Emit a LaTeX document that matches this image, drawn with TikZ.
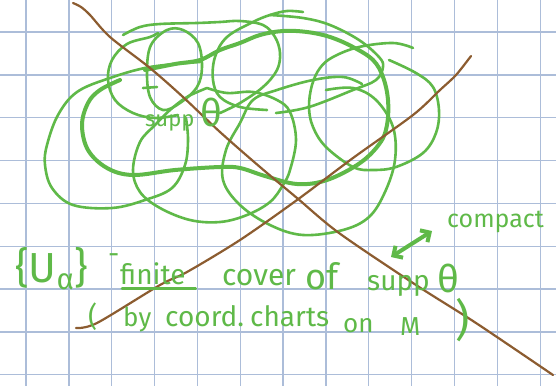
\documentclass[tikz,border=0pt]{standalone}
\usepackage{fontspec}
\setmainfont{Fira Sans}
\usetikzlibrary{arrows.meta}
\definecolor{gridc}{RGB}{172,189,217}
\definecolor{pen}{RGB}{95,185,72}
\definecolor{brownpen}{RGB}{140,92,48}
\tikzset{
  gridline/.style={draw=gridc, line width=1.3},
  stroke/.style={draw=pen, line width=2.6, line cap=round, line join=round},
  thick stroke/.style={draw=pen, line width=4, line cap=round, line join=round},
  brownline/.style={draw=brownpen, line width=2.2, line cap=round},
  hw/.style={text=pen, inner sep=0pt, anchor=base west},
}
\begin{document}
\begin{tikzpicture}[x=1pt,y=-1pt]
\useasboundingbox (0,0) rectangle (556,386);
\fill[white] (0,0) rectangle (556,386);
% grid
\foreach \i in {0,...,12} \draw[gridline] ({26+42.85*\i},0) -- ({26+42.85*\i},386);
\foreach \j in {0,...,8} \draw[gridline] (0,{32+42.85*\j}) -- (556,{32+42.85*\j});

% green loops
% outer left loop
\draw[stroke] plot[smooth, tension=0.6] coordinates {(200,62) (150,67) (110,78) (77,92) (58,115) (47,145) (45,165) (52,188) (73,205) (112,208) (145,200) (172,188) (185,165) (188,140) (186,118)};
% thick big loop
\draw[thick stroke] plot[smooth, tension=0.6] coordinates {(145,70) (175,64) (200,60) (220,50) (240,43) (260,35) (283,31) (307,32) (330,37) (353,47) (373,60) (383,77) (388,100) (387,125) (380,143) (360,163) (327,180) (297,184) (265,176) (240,168) (220,167) (175,170) (133,175) (107,168) (88,150) (82,125) (88,103) (100,90) (120,80)};
% big right-centre loop
\draw[stroke] plot[smooth, tension=0.6] coordinates {(362,84) (343,77) (313,80) (277,90) (253,100) (240,123) (226,150) (223,180) (240,205) (270,225) (303,235) (343,230) (369,217) (385,192) (395,160) (393,127) (376,100) (353,88) (326,90)};
% top strokes forming loop C
\draw[stroke] plot[smooth, tension=0.6] coordinates {(123,35) (140,27) (160,24) (197,23) (220,22) (240,21) (263,25) (275,37) (280,53) (277,70) (263,87) (240,103) (220,113)};
\draw[stroke] plot[smooth, tension=0.6] coordinates {(303,12) (287,11) (270,15) (253,22) (227,37) (215,57) (213,80) (220,97) (240,107) (267,110)};
% loop A
\draw[stroke] plot[smooth, tension=0.6] coordinates {(158,33) (150,37) (127,44) (112,60) (108,80) (115,100) (133,113) (155,118) (178,115)};
% loop B
\draw[stroke] plot[smooth cycle, tension=0.6] coordinates {(147,70) (151,45) (167,30) (183,30) (198,43) (202,67) (197,87) (180,103) (163,110) (150,97)};
% right loop E
\draw[stroke] plot[smooth, tension=0.6] coordinates {(389,60) (416,73) (433,87) (439,110) (436,133) (423,153) (396,167) (373,170) (353,167) (326,147) (313,127) (309,107) (312,85) (320,68) (333,57) (359,47) (393,43) (413,48)};
% top-right loop G
\draw[stroke] plot[smooth, tension=0.6] coordinates {(270,15) (303,18) (330,25) (359,40) (379,57) (383,67) (376,80) (353,90) (309,107) (276,113)};
% loop F
\draw[stroke] plot[smooth, tension=0.6] coordinates {(207,88) (227,93) (253,92) (277,100) (290,112) (296,140) (290,170) (283,185) (270,202) (247,215) (220,222) (190,220) (160,208) (140,192) (133,170) (140,142) (155,125) (170,110) (187,97) (207,88)};
\draw[stroke] (143,88) -- (157,87);

% brown lines
\draw[brownline] plot[smooth, tension=0.5] coordinates {(73,3) (81,7) (90,15) (110,37) (150,68) (183,97) (220,132) (260,167) (297,198) (339,233) (416,285) (476,323) (553,375)};
\draw[brownline] plot[smooth, tension=0.5] coordinates {(76,328) (97,323) (160,285) (187,272) (240,240) (297,200) (353,158) (413,115) (440,90) (456,75) (471,56)};

% small label supp theta
\node[hw, font=\fontsize{22}{24}\selectfont] (supps) at (145,126) {supp};
\node[hw, font=\fontsize{38}{40}\selectfont] (thetas) at (200,126) {θ};

% main text line 1
\node[hw, font=\fontsize{42}{44}\selectfont] (ua) at (15,282) {\{U\textsubscript{α}\}};
\node[hw, font=\fontsize{28}{30}\selectfont] (dash) at (108,263) {-};
\node[hw, font=\fontsize{28}{30}\selectfont] (fin) at (120,284) {finite};
\draw[stroke] (fin.south west) ++(2,4) -- ([xshift=10pt,yshift=-4pt]fin.south east);
\node[hw, font=\fontsize{30}{32}\selectfont] (cover) at (222,285) {cover};
\node[hw, font=\fontsize{36}{38}\selectfont] (of) at (305,289) {of};
\node[hw, font=\fontsize{28}{30}\selectfont] (supp) at (367,290) {supp};
\node[hw, font=\fontsize{38}{40}\selectfont] (theta) at (437,292) {θ};

% line 2
\node[hw, font=\fontsize{28}{30}\selectfont] (lp) at (88,326) {(};
\node[hw, font=\fontsize{26}{28}\selectfont] (by) at (123,326) {by};
\node[hw, font=\fontsize{28}{30}\selectfont] (coord) at (165,326) {coord.};
\node[hw, font=\fontsize{28}{30}\selectfont] (charts) at (250,326) {charts};
\node[hw, font=\fontsize{26}{28}\selectfont] (on) at (343,332) {on};
\node[hw, font=\fontsize{26}{28}\selectfont] (M) at (400,335) {M};
\node[hw, font=\fontsize{44}{46}\selectfont] (rp) at (455,335) {)};

% compact with double arrow
\node[hw, font=\fontsize{25}{27}\selectfont] (compact) at (447,227) {compact};
\coordinate (a1) at (391,257);
\coordinate (a2) at (432,231);
\draw[stroke, line width=4, {Straight Barb[length=7,width=14]}-{Straight Barb[length=7,width=14]}] (a1) -- (a2);
\end{tikzpicture}
\end{document}
